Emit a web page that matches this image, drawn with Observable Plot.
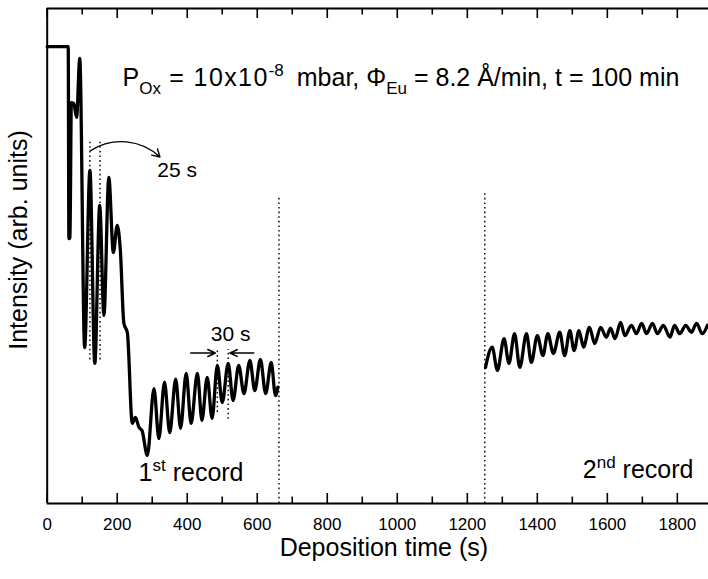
<!DOCTYPE html>
<html><head><meta charset="utf-8">
<script src="https://cdn.jsdelivr.net/npm/d3@7"></script>
<script src="https://cdn.jsdelivr.net/npm/@observablehq/plot@0.6"></script>
<style>body{margin:0;background:#fff} svg{display:block}</style>
</head><body><div id="chart"></div>
<script>
// 1st record (deposition time in s, intensity in arb. units)
const rec1Time = [0, 60, 62, 65, 69, 76, 84, 93, 107, 122, 136, 150, 162, 176, 189, 200, 209, 219, 229, 243, 252, 262, 271, 286, 305, 319, 335, 350, 367, 381, 397, 411, 429, 442, 457, 471, 486, 500, 517, 531, 547, 562, 579, 593, 609, 624, 640, 652, 659];
const rec1Intensity = [92.3, 92.3, 53.5, 53.7, 81.0, 80.8, 78.0, 89.9, 31.5, 67.3, 28.3, 60.2, 38.0, 65.9, 50.7, 56.2, 51.1, 36.4, 34.5, 16.2, 17.4, 15.4, 14.7, 9.7, 23.2, 13.1, 24.5, 14.3, 25.1, 15.2, 26.3, 16.2, 26.3, 16.8, 25.5, 17.2, 27.9, 20.4, 28.3, 20.8, 27.9, 22.2, 28.9, 22.8, 29.1, 22.2, 28.5, 21.8, 23.5];
// 2nd record
const rec2Time = [1252, 1271, 1286, 1305, 1319, 1335, 1350, 1369, 1383, 1400, 1416, 1430, 1446, 1464, 1478, 1493, 1505, 1519, 1532, 1549, 1564, 1581, 1597, 1609, 1622, 1638, 1650, 1669, 1683, 1698, 1712, 1729, 1743, 1760, 1779, 1792, 1807, 1824, 1840, 1855, 1871, 1886];
const rec2Intensity = [27.5, 31.6, 26.9, 33.3, 28.3, 34.3, 27.5, 34.3, 28.5, 33.9, 29.9, 34.3, 30.3, 34.6, 29.9, 34.9, 30.9, 34.9, 31.6, 35.6, 32.3, 35.6, 33.6, 35.4, 33.3, 36.6, 33.9, 36.0, 34.3, 36.4, 34.3, 36.4, 34.3, 36.0, 33.6, 36.0, 34.3, 36.0, 34.6, 36.4, 34.3, 36.0];

const majorTicks = [0, 200, 400, 600, 800, 1000, 1200, 1400, 1600, 1800];
const minorTicks = [100, 300, 500, 700, 900, 1100, 1300, 1500, 1700, 1900];
const xDomain = [0, 1889];
const yDomain = [0, 100];

// annotation values (data units)
const recordBreakTime = [662, 1250];
const recordBreakTop = [62.2, 63.2];
const period25Time = [122, 151];
const period25Range = [29.0, 73.5];
const period30Time = [486, 517];
const period30Bottom = [18.4, 17.0];
const period30Top = 30.5;
const arrow25 = [{x1: 124, y1: 71.3, x2: 322, y2: 70.0}];
const arrows30 = [{x1: 410, x2: 480, y: 30.4}, {x1: 590, x2: 522, y: 30.4}];
const startLabels = [
  {key: "TITLE", t: 215, v: 85.9},
  {key: "REC1", t: 261, v: 6.1},
  {key: "REC2", t: 1530, v: 6.7}
];
const periodLabels = [
  {key: "25 s", t: 371, v: 67.3},
  {key: "30 s", t: 524, v: 34.1}
];
// [text, mode, extra spacing]
const rich = {
  TITLE: [["P"], ["Ox", "sub"], [" = 10x10", null, 1.4], ["-8", "sup"], [" mbar, Φ", null, 0, 6], ["Eu", "sub"], [" = 8.2 Å/min, t = 100 min"]],
  REC1: [["1"], ["st", "sup"], [" record"]],
  REC2: [["2"], ["nd", "sup"], [" record"]]
};

const FONT = "'Liberation Sans', Arial, Helvetica, sans-serif";
const W = 708, H = 579, mL = 46.7, mR = 0, mT = 8, mB = 76;
const unitsPerPx = (yDomain[1] - yDomain[0]) / (H - mT - mB);
const majLen = 10 * unitsPerPx, minLen = 6.5 * unitsPerPx;

const rec1 = rec1Time.map((t, i) => ({t, v: rec1Intensity[i]}));
const rec2 = rec2Time.map((t, i) => ({t, v: rec2Intensity[i]}));
const breaks = recordBreakTime.map((t, i) => ({t, top: recordBreakTop[i]}));
const p30 = period30Time.map((t, i) => ({t, bottom: period30Bottom[i]}));

const dotted = {stroke: "black", strokeWidth: 1.4, strokeDasharray: "1.6,3"};

const chart = Plot.plot({
  width: W, height: H,
  marginLeft: mL, marginRight: mR, marginTop: mT, marginBottom: mB,
  x: {domain: xDomain},
  y: {domain: yDomain, axis: null},
  style: {fontFamily: FONT, fontSize: "17px", background: "white", color: "black"},
  marks: [
    // frame
    Plot.ruleY([yDomain[0], yDomain[1]], {stroke: "black", strokeWidth: 2}),
    Plot.ruleX([xDomain[0]], {stroke: "black", strokeWidth: 2}),
    // inward ticks bottom & top
    Plot.ruleX(majorTicks, {x: d => d, y1: yDomain[0], y2: yDomain[0] + majLen, strokeWidth: 1.6}),
    Plot.ruleX(minorTicks, {x: d => d, y1: yDomain[0], y2: yDomain[0] + minLen, strokeWidth: 1.6}),
    Plot.ruleX(majorTicks, {x: d => d, y1: yDomain[1] - majLen, y2: yDomain[1], strokeWidth: 1.6}),
    Plot.ruleX(minorTicks, {x: d => d, y1: yDomain[1] - minLen, y2: yDomain[1], strokeWidth: 1.6}),
    Plot.axisX(majorTicks, {anchor: "bottom", tickSize: 0, tickPadding: 14, fontSize: 17, label: null, tickFormat: d => String(d)}),
    // dotted guides
    Plot.ruleX(breaks, {x: "t", y1: yDomain[0], y2: "top", ...dotted}),
    Plot.ruleX(period25Time, {x: d => d, y1: period25Range[0], y2: period25Range[1], ...dotted}),
    Plot.ruleX(p30, {x: "t", y1: "bottom", y2: period30Top + 0.6, ...dotted}),
    // data
    Plot.line(rec1, {x: "t", y: "v", curve: "monotone-x", stroke: "black", strokeWidth: 3.3}),
    Plot.line(rec2, {x: "t", y: "v", curve: "monotone-x", stroke: "black", strokeWidth: 3.3}),
    // arrows
    Plot.arrow(arrow25, {x1: "x1", y1: "y1", x2: "x2", y2: "y2", bend: 38, headLength: 9, stroke: "black", strokeWidth: 1.4}),
    Plot.arrow(arrows30, {x1: "x1", y1: "y", x2: "x2", y2: "y", headLength: 9, headAngle: 50, stroke: "black", strokeWidth: 1.6}),
    // texts
    Plot.text(startLabels, {x: "t", y: "v", text: "key", fontSize: 25, textAnchor: "start", lineAnchor: "middle", fill: "black"}),
    Plot.text(periodLabels, {x: "t", y: "v", text: "key", fontSize: 21, textAnchor: "middle", lineAnchor: "middle", fill: "black"}),
    Plot.text(["Deposition time (s)"], {frameAnchor: "bottom", dx: 6, dy: 44, fontSize: 25, textAnchor: "middle", lineAnchor: "middle", fill: "black"}),
    Plot.text(["Intensity (arb. units)"], {frameAnchor: "left", dx: -28, dy: -16, rotate: -90, fontSize: 25, textAnchor: "middle", lineAnchor: "middle", fill: "black"})
  ]
});

// rich text (sub/superscripts)
d3.select(chart).selectAll("text").each(function() {
  const parts = rich[this.textContent];
  if (!parts) return;
  const el = d3.select(this);
  const F = 25;
  el.text(null);
  let shift = 0;
  for (const [s, mode, spacing, gap] of parts) {
    const want = mode === "sub" ? 0.32 * F : mode === "sup" ? -0.42 * F : 0;
    const ts = el.append("tspan").text(s);
    if (want !== shift) ts.attr("dy", want - shift);
    if (mode) ts.attr("font-size", 0.68 * F);
    if (spacing) ts.attr("letter-spacing", spacing);
    if (gap) ts.attr("dx", gap);
    shift = want;
  }
});

document.getElementById("chart").appendChild(chart);
</script>
</body></html>
